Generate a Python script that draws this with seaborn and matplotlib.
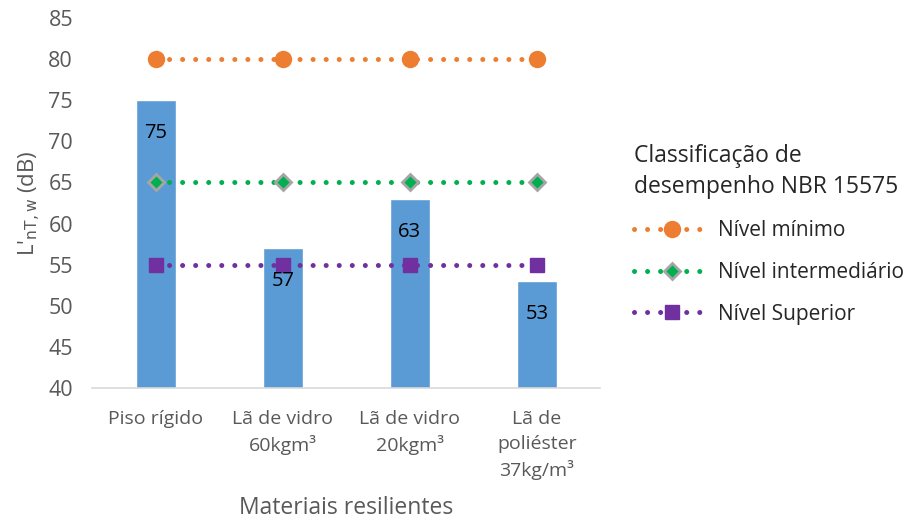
import numpy as np
import pandas as pd
import seaborn as sns
import matplotlib.pyplot as plt

# Dados do gráfico
materiais = ['Piso rígido', 'Lã de vidro\n60kgm³', 'Lã de vidro\n20kgm³', 'Lã de\npoliéster\n37kg/m³']
valores = [75, 57, 63, 53]
nivel_minimo = [80, 80, 80, 80]
nivel_intermediario = [65, 65, 65, 65]
nivel_superior = [55, 55, 55, 55]

sns.set_theme(style='white')
plt.rcParams['font.family'] = ['Open Sans', 'DejaVu Sans']

cinza = '#595959'
fig = plt.figure(figsize=(9.11, 5.31), dpi=100)
ax = fig.add_axes([0.1015, 0.2693, 0.5575, 0.6967])

df = pd.DataFrame({'material': materiais, 'valor': valores})
sns.barplot(data=df, x='material', y='valor', color='#5B9BD5', saturation=1,
            width=0.315, ax=ax)
ax.bar_label(ax.containers[0], padding=-31, fontsize=14.5, color='black')

pos = np.arange(len(materiais))
estilo = dict(linestyle=(0, (0.01, 2.6)), linewidth=3.6, dash_capstyle='round')
ax.plot(pos, nivel_minimo, color='#ED7D31', marker='o', markersize=11.5,
        label='Nível mínimo', **estilo)
ax.plot(pos, nivel_intermediario, color='#00B050', marker='D', markersize=8,
        markerfacecolor='#00B050', markeredgecolor='#A5A5A5', markeredgewidth=2,
        label='Nível intermediário', **estilo)
ax.plot(pos, nivel_superior, color='#7030A0', marker='s', markersize=10,
        label='Nível Superior', **estilo)

ax.set_xlim(-0.5, 3.5)
ax.set_ylim(40, 85)
ax.set_yticks(range(40, 86, 5))
ax.tick_params(axis='both', colors=cinza, length=0)
ax.tick_params(axis='x', labelsize=14, pad=16)
ax.tick_params(axis='y', labelsize=15.5, pad=14)
for lbl in ax.get_xticklabels():
    lbl.set_linespacing(1.45)
for s in ['top', 'right', 'left']:
    ax.spines[s].set_visible(False)
ax.spines['bottom'].set_color('#D9D9D9')
ax.spines['bottom'].set_linewidth(1.2)

ax.set_xlabel('Materiais resilientes', fontsize=16.5, color=cinza, labelpad=12)
ax.set_ylabel("L'$_{\\mathrm{nT,w}}$ (dB)", fontsize=16, color=cinza, labelpad=4)

leg = ax.legend(title='Classificação de\ndesempenho NBR 15575', loc='upper left',
                bbox_to_anchor=(1.03, 0.71), frameon=False, fontsize=15,
                title_fontsize=16.5, handlelength=3.6, labelspacing=1.0,
                alignment='left', handletextpad=0.4)
leg.get_title().set_linespacing(1.4)
for t in leg.get_texts():
    t.set_color('#262626')
leg.get_title().set_color('#262626')

plt.savefig('out.png', dpi=100)
